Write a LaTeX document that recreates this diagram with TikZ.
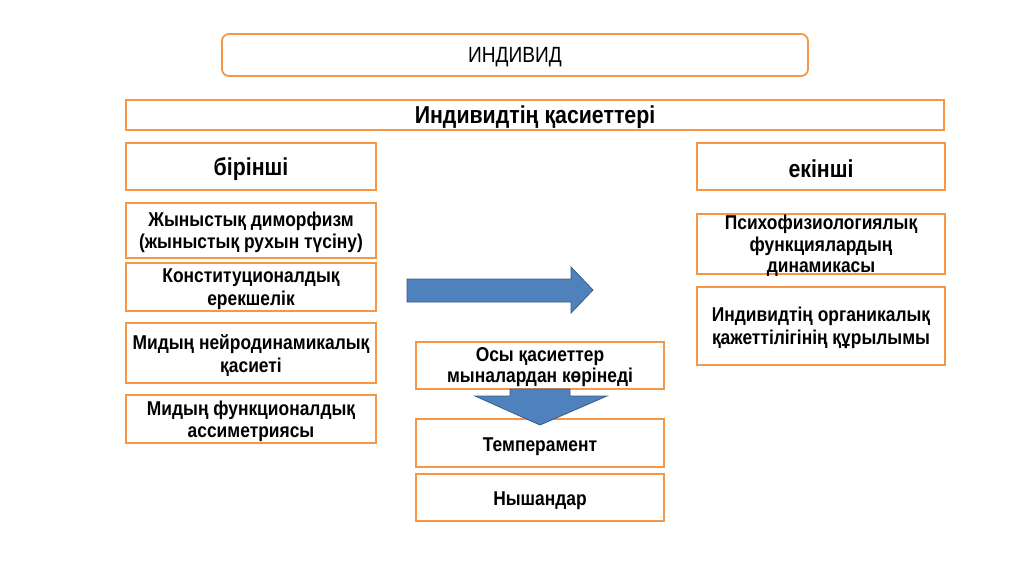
\documentclass[tikz,border=0pt]{standalone}
\usepackage{fontspec}
\setmainfont{Liberation Sans}
\newfontfamily\slimfont[FakeStretch=0.87]{Liberation Sans}
\definecolor{boxorange}{HTML}{F79646}
\definecolor{arrowblue}{HTML}{4F81BD}
\definecolor{arrowedge}{HTML}{385D8A}
\begin{document}
\begin{tikzpicture}[x=1pt,y=-1pt,
  box/.style={draw=boxorange,line width=1.8pt,fill=white,inner sep=0pt},
  txt/.style={align=center,inner sep=0pt,font=\slimfont\bfseries\fontsize{20}{22.5}\selectfont},
  headfont/.style={font=\slimfont\bfseries\fontsize{24.5}{26}\selectfont},
  bigarrow/.style={fill=arrowblue,draw=arrowedge,line width=0.8pt}]
\useasboundingbox (0,0) rectangle (1024,574);
\fill[white] (0,0) rectangle (1024,574);
% boxes
\node[box,rounded corners=7pt,minimum width=586,minimum height=42] (ind) at (515,55) {};
\node[box,minimum width=818,minimum height=30] (qas) at (535,115) {};
\node[box,minimum width=250,minimum height=47] (bir) at (251,166.5) {};
\node[box,minimum width=248,minimum height=47] (eki) at (821,166.5) {};
\node[box,minimum width=250,minimum height=55] (zhy) at (251,230.5) {};
\node[box,minimum width=250,minimum height=48] (kon) at (251,287) {};
\node[box,minimum width=250,minimum height=60] (nei) at (251,353) {};
\node[box,minimum width=250,minimum height=48] (fun) at (251,419) {};
\node[box,minimum width=248,minimum height=60] (psi) at (821,244) {};
\node[box,minimum width=248,minimum height=78] (org) at (821,326) {};
\node[box,minimum width=248,minimum height=47] (osy) at (540,365.5) {};
\node[box,minimum width=248,minimum height=48] (tem) at (540,443) {};
\node[box,minimum width=248,minimum height=47] (nys) at (540,497.5) {};
% texts
\node[txt,font=\slimfont\fontsize{22}{24}\selectfont] (tind) at ([yshift=-2pt]ind.center) {ИНДИВИД};
\node[txt,headfont] (tqas) at ([yshift=-2.5pt]qas.center) {Индивидтің қасиеттері};
\node[txt,headfont] (tbir) at ([yshift=-2.5pt]bir.center) {бірінші};
\node[txt,headfont] (teki) at ([yshift=-2.5pt]eki.center) {екінші};
\node[txt] (tzhy) at ([yshift=-2pt]zhy.center) {Жыныстық диморфизм\\(жыныстық рухын түсіну)};
\node[txt] (tkon) at ([yshift=-2pt]kon.center) {Конституционалдық\\ерекшелік};
\node[txt] (tnei) at ([yshift=-2.5pt]nei.center) {Мидың нейродинамикалық\\қасиеті};
\node[txt] (tfun) at ([yshift=-2.5pt]fun.center) {Мидың функционалдық\\ассиметриясы};
\node[txt,font=\slimfont\bfseries\fontsize{20}{21.5}\selectfont] (tpsi) at ([yshift=-2pt]psi.center) {Психофизиологиялық\\функциялардың\\динамикасы};
\node[txt] (torg) at ([yshift=-2pt]org.center) {Индивидтің органикалық\\қажеттілігінің құрылымы};
\node[txt,font=\slimfont\bfseries\fontsize{20}{21.5}\selectfont] (tosy) at ([yshift=-1.5pt]osy.center) {Осы қасиеттер\\мыналардан көрінеді};
\node[txt] (ttem) at ([yshift=-3.5pt]tem.center) {Темперамент};
\node[txt] (tnys) at ([yshift=-3pt]nys.center) {Нышандар};
% right arrow
\draw[bigarrow] (407,279) -- (571,279) -- (571,267) -- (593,290) -- (571,313) -- (571,302) -- (407,302) -- cycle;
% down arrow
\draw[bigarrow] (510,389) -- (510,396) -- (475,396) -- (540,425) -- (607,396) -- (570,396) -- (570,389) -- cycle;
\end{tikzpicture}
\end{document}
